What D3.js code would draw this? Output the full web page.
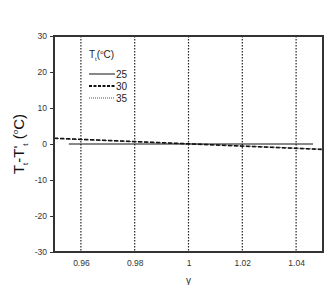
<!DOCTYPE html>
<html>
<head>
<meta charset="utf-8">
<script src="https://cdn.jsdelivr.net/npm/d3@7"></script>
<style>
  body { margin: 0; background: #fff; }
  text { font-family: Arial, "Liberation Sans", sans-serif; }
</style>
</head>
<body>
<div id="container"></div>
<script>
let w = 328;
let h = 285;
let padLeft = 54, padRight = 323, padTop = 36, padBottom = 252;

let xTicks = [0.96, 0.98, 1, 1.02, 1.04];
let xTickLabels = ["0.96", "0.98", "1", "1.02", "1.04"];
let yTicks = [-30, -20, -10, 0, 10, 20, 30];

// series: [gamma, Tt - T't]
let series25 = [[0.9555, 0], [1.0463, 0]];
let series30 = [[0.95, 1.6], [1.05, -1.5]];
let series35 = [[0.95, 1.55], [1.05, -1.45]];
let seriesNames = ["25", "30", "35"];

let viz = d3.select("#container")
  .append("svg")
  .attr("width", w)
  .attr("height", h);

let xScale = d3.scaleLinear().domain([0.95, 1.05]).range([padLeft, padRight]);
let yScale = d3.scaleLinear().domain([-30, 30]).range([padBottom, padTop]);

// vertical dotted grid lines
viz.selectAll(".grid")
  .data(xTicks)
  .enter()
  .append("line")
  .attr("class", "grid")
  .attr("x1", d => xScale(d))
  .attr("x2", d => xScale(d))
  .attr("y1", padTop)
  .attr("y2", padBottom)
  .attr("stroke", "#222")
  .attr("stroke-width", 1.2)
  .attr("stroke-dasharray", "1.5,1.5");

let xAxis = d3.axisBottom(xScale)
  .tickValues(xTicks)
  .tickFormat((d, i) => xTickLabels[i])
  .tickSize(0)
  .tickPadding(8);
let xAxisGroup = viz.append("g")
  .attr("transform", "translate(0," + padBottom + ")")
  .call(xAxis);
xAxisGroup.select(".domain").remove();
xAxisGroup.selectAll("text").attr("font-size", 8.5).attr("fill", "#333");

let yAxis = d3.axisLeft(yScale)
  .tickValues(yTicks)
  .tickFormat(d => String(d))
  .tickSize(4)
  .tickPadding(3);
let yAxisGroup = viz.append("g")
  .attr("transform", "translate(" + padLeft + ",0)")
  .call(yAxis);
yAxisGroup.select(".domain").remove();
yAxisGroup.selectAll("line").attr("stroke", "#333");
yAxisGroup.selectAll("text").attr("font-size", 8.5).attr("fill", "#333");

let line = d3.line()
  .x(d => xScale(d[0]))
  .y(d => yScale(d[1]));

viz.append("path").datum(series35).attr("d", line)
  .attr("fill", "none").attr("stroke", "#555").attr("stroke-width", 1)
  .attr("stroke-dasharray", "1,1");
viz.append("path").datum(series30).attr("d", line)
  .attr("fill", "none").attr("stroke", "#111").attr("stroke-width", 1.6)
  .attr("stroke-dasharray", "4,2");
viz.append("path").datum(series25).attr("d", line)
  .attr("fill", "none").attr("stroke", "#111").attr("stroke-width", 1);

// frame
viz.append("rect")
  .attr("x", padLeft).attr("y", padTop)
  .attr("width", padRight - padLeft).attr("height", padBottom - padTop)
  .attr("fill", "none").attr("stroke", "#333").attr("stroke-width", 2);

// legend
let legend = viz.append("g").attr("transform", "translate(89,0)");
let lt = legend.append("text").attr("x", 0).attr("y", 58).attr("font-size", 10).attr("fill", "#222");
lt.append("tspan").text("T");
lt.append("tspan").attr("font-size", 6).attr("dy", 3).text("t");
lt.append("tspan").attr("dy", -3).text("(");
lt.append("tspan").attr("font-size", 6).attr("dy", -4).text("o");
lt.append("tspan").attr("dy", 4).text("C)");

let legendStyles = [
  { dash: null, width: 1, color: "#111" },
  { dash: "3,1.5", width: 1.8, color: "#111" },
  { dash: "1,1", width: 1, color: "#555" }
];
seriesNames.forEach(function (name, i) {
  let y = 74 + i * 12;
  let l = legend.append("line")
    .attr("x1", 0).attr("x2", 26).attr("y1", y).attr("y2", y)
    .attr("stroke", legendStyles[i].color)
    .attr("stroke-width", legendStyles[i].width);
  if (legendStyles[i].dash) l.attr("stroke-dasharray", legendStyles[i].dash);
  legend.append("text").attr("x", 27).attr("y", y + 4)
    .attr("font-size", 10).attr("fill", "#222").text(name);
});

// axis titles
let yl = viz.append("text")
  .attr("transform", "translate(24," + ((padTop + padBottom) / 2) + ") rotate(-90)")
  .attr("text-anchor", "middle")
  .attr("font-size", 15)
  .attr("fill", "#111");
yl.append("tspan").text("T");
yl.append("tspan").attr("font-size", 8).attr("dy", 4).text("t");
yl.append("tspan").attr("dy", -4).text("-T'");
yl.append("tspan").attr("font-size", 8).attr("dy", 4).text("t");
yl.append("tspan").attr("dy", -4).text(" (");
yl.append("tspan").attr("font-size", 8).attr("dy", -6).text("o");
yl.append("tspan").attr("dy", 6).text("C)");

viz.append("text")
  .attr("x", xScale(1)).attr("y", 284)
  .attr("text-anchor", "middle")
  .attr("font-size", 10)
  .attr("fill", "#333")
  .text("γ");
</script>
</body>
</html>
